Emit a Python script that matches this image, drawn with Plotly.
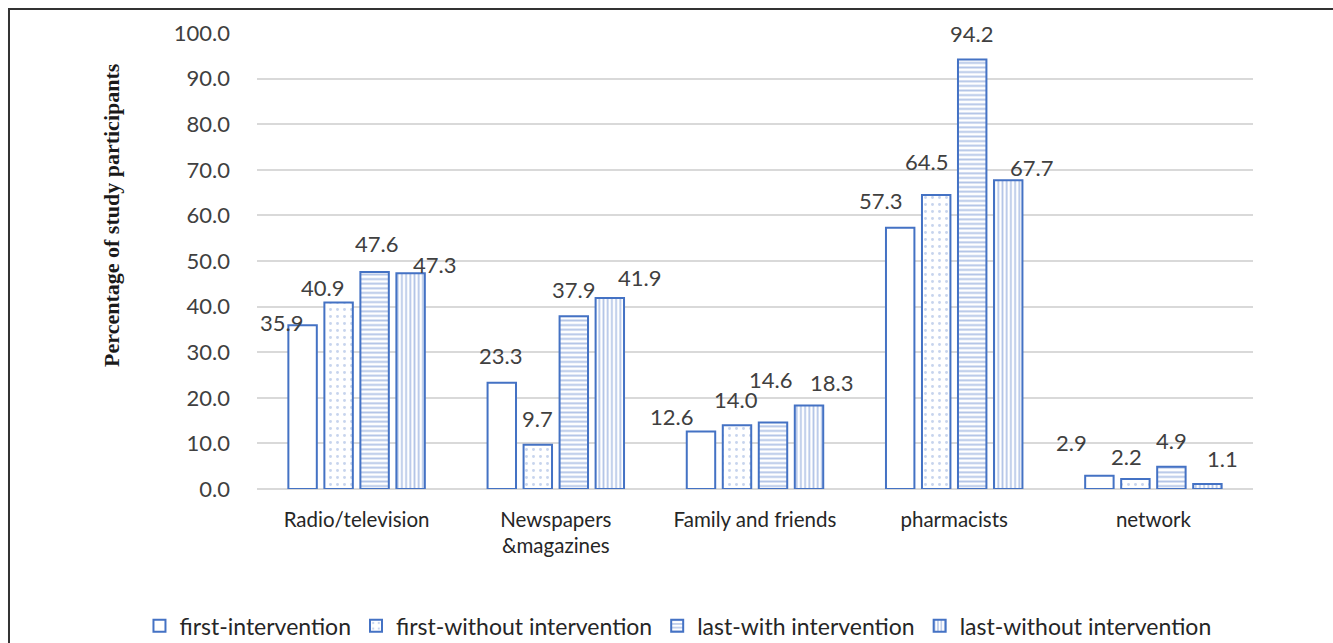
import plotly.graph_objects as go

# Sources of information, four survey groups
categories = ["Radio/television", "Newspapers<br>&magazines", "Family and friends", "pharmacists", "network"]
series_names = ["first-intervention", "first-without intervention", "last-with intervention", "last-without intervention"]
first_intervention = [35.9, 23.3, 12.6, 57.3, 2.9]
first_without = [40.9, 9.7, 14.0, 64.5, 2.2]
last_with = [47.6, 37.9, 14.6, 94.2, 4.9]
last_without = [47.3, 41.9, 18.3, 67.7, 1.1]
series_values = [first_intervention, first_without, last_with, last_without]
y_ticks = [0, 10, 20, 30, 40, 50, 60, 70, 80, 90, 100]

# per-label nudges (px right, px up) for the value labels
label_nudge = [
    [(-21, 3), (-1, 27), (-29, 15), (-20, 27), (-28, 33)],
    [(-16, 15), (0, 26), (-1, 26), (-10, 33), (-9, 22)],
    [(2, 28), (0, 27), (-3, 43), (-1, 26), (0, 26)],
    [(24, 9), (30, 20), (22, 23), (23, 13), (15, 25)],
]

BLUE = "#4472C4"
patterns = [
    dict(shape="", bgcolor="white"),
    dict(shape=".", fgcolor="#8FAADC", bgcolor="white", size=7, solidity=0.14),
    dict(shape="-", fgcolor="#6A8CCF", bgcolor="white", size=4.6, solidity=0.42),
    dict(shape="|", fgcolor="#6A8CCF", bgcolor="white", size=4.2, solidity=0.42),
]

BARGAP = 0.277
x_idx = list(range(len(categories)))

fig = go.Figure()
for name, vals, pat in zip(series_names, series_values, patterns):
    fig.add_trace(go.Bar(
        x=x_idx, y=vals, name=name,
        marker=dict(color="white", line=dict(color=BLUE, width=2), pattern=pat),
    ))

slot = (1 - BARGAP) / len(series_names)
annotations = []
for k, vals in enumerate(series_values):
    for i, v in enumerate(vals):
        dx, up = label_nudge[k][i]
        annotations.append(dict(
            x=i + (k - 1.5) * slot, y=v, xref="x", yref="y",
            text=f"{v:.1f}", showarrow=False, xanchor="center", yanchor="middle",
            xshift=dx, yshift=up, font=dict(family="Lato", size=22, color="#404040"),
        ))

annotations.append(dict(
    x=-0.1456, y=0.601, xref="paper", yref="paper", textangle=-90,
    text="<b>Percentage of study participants</b>", showarrow=False,
    xanchor="center", yanchor="middle",
    font=dict(family="Liberation Serif", size=22, color="#1a1a1a"),
))

fig.update_layout(
    width=1333, height=643,
    margin=dict(l=257, r=80, t=33, b=154, autoexpand=False),
    paper_bgcolor="white", plot_bgcolor="white",
    barmode="group", bargap=BARGAP, bargroupgap=0.21,
    font=dict(family="Lato", color="#404040"),
    showlegend=True,
    legend=dict(
        orientation="h", x=-0.118, y=-0.30, xanchor="left", yanchor="middle",
        font=dict(family="Lato", size=23, color="#262626"),
        itemwidth=30, tracegroupgap=0, traceorder="normal",
    ),
    annotations=annotations,
    shapes=[dict(
        type="rect", xref="paper", yref="paper",
        x0=-0.249, x1=1.3, y0=-0.6, y1=1.0526,
        line=dict(color="#333333", width=2), layer="above",
    )],
)
fig.update_xaxes(
    tickmode="array", tickvals=x_idx, ticktext=categories,
    range=[-0.5, len(categories) - 0.5], automargin=False,
    showgrid=False, showline=False, ticks="", ticklabelstandoff=16,
    tickfont=dict(family="Lato", size=20.5, color="#262626"),
)
fig.update_yaxes(
    range=[0, 100], tickvals=y_ticks, tickformat=".1f", automargin=False,
    showgrid=True, gridcolor="#D9D9D9", gridwidth=1.5,
    zeroline=True, zerolinecolor="#D9D9D9", zerolinewidth=1.5,
    showline=False, ticks="", ticklabelstandoff=26,
    tickfont=dict(family="Lato", size=22, color="#404040"),
)

fig.write_html("out.html")
